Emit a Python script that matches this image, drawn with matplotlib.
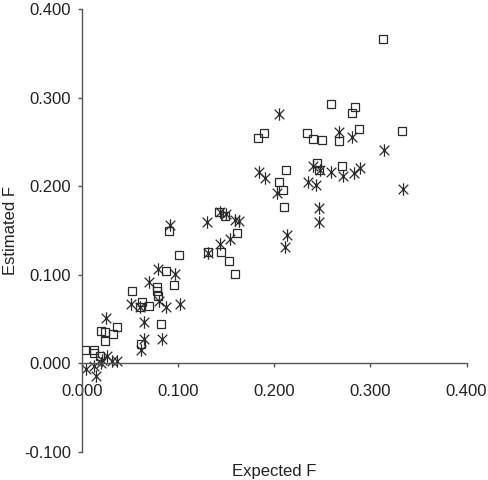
import matplotlib
matplotlib.use("Agg")
import matplotlib.pyplot as plt
from matplotlib.path import Path
from matplotlib.ticker import FuncFormatter

# Open squares series
sq_x = [0.313, 0.259, 0.284, 0.281, 0.189, 0.183, 0.234, 0.240, 0.250, 0.267,
        0.288, 0.333, 0.270, 0.244, 0.246, 0.212, 0.205, 0.209, 0.210, 0.142,
        0.149, 0.161, 0.144, 0.153, 0.159, 0.131, 0.090, 0.101, 0.087, 0.096,
        0.078, 0.078, 0.079, 0.052, 0.062, 0.060, 0.070, 0.082, 0.020, 0.024,
        0.036, 0.032, 0.024, 0.003, 0.012, 0.012, 0.019, 0.061]
sq_y = [0.366, 0.293, 0.289, 0.283, 0.260, 0.254, 0.260, 0.253, 0.252, 0.251,
        0.264, 0.262, 0.223, 0.226, 0.218, 0.218, 0.205, 0.196, 0.176, 0.171,
        0.166, 0.147, 0.126, 0.115, 0.101, 0.126, 0.149, 0.122, 0.104, 0.088,
        0.086, 0.081, 0.076, 0.082, 0.069, 0.064, 0.065, 0.044, 0.036, 0.035,
        0.041, 0.033, 0.025, 0.015, 0.015, 0.011, 0.008, 0.022]

# Asterisk series
st_x = [0.205, 0.267, 0.281, 0.314, 0.334, 0.184, 0.190, 0.235, 0.243, 0.240,
        0.248, 0.259, 0.271, 0.283, 0.289, 0.247, 0.246, 0.213, 0.211, 0.203,
        0.130, 0.143, 0.150, 0.159, 0.163, 0.154, 0.143, 0.131, 0.091, 0.097,
        0.102, 0.087, 0.079, 0.070, 0.080, 0.051, 0.060, 0.064, 0.064, 0.083,
        0.061, 0.025, 0.026, 0.021, 0.020, 0.031, 0.036, 0.004, 0.012, 0.014]
st_y = [0.282, 0.261, 0.256, 0.241, 0.197, 0.216, 0.209, 0.205, 0.201, 0.223,
        0.218, 0.216, 0.212, 0.215, 0.221, 0.175, 0.160, 0.145, 0.131, 0.192,
        0.159, 0.171, 0.169, 0.162, 0.161, 0.140, 0.135, 0.125, 0.156, 0.101,
        0.067, 0.063, 0.106, 0.092, 0.070, 0.067, 0.064, 0.047, 0.027, 0.027,
        0.015, 0.051, 0.008, 0.004, 0.000, 0.003, 0.003, -0.007, -0.003, -0.015]

x_ticks = [0.0, 0.1, 0.2, 0.3, 0.4]
y_ticks = [-0.1, 0.0, 0.1, 0.2, 0.3, 0.4]

plt.rcParams['font.family'] = ['Liberation Sans', 'DejaVu Sans']

fig = plt.figure(figsize=(4.89, 4.80), dpi=100)
ax = fig.add_axes([0.168, 0.059, 0.786, 0.922])

col = '#2a2a2a'
star = Path([(-1, -1), (1, 1), (-1, 1), (1, -1), (0, -1.3), (0, 1.3)],
            [Path.MOVETO, Path.LINETO, Path.MOVETO, Path.LINETO, Path.MOVETO, Path.LINETO])

ax.plot(sq_x, sq_y, linestyle='none', marker='s', markersize=6,
        markerfacecolor='none', markeredgecolor=col, markeredgewidth=0.9)
ax.plot(st_x, st_y, linestyle='none', marker=star, markersize=9,
        markerfacecolor='none', markeredgecolor=col, markeredgewidth=0.9)

ax.set_xlim(0, 0.4)
ax.set_ylim(-0.1, 0.4)
ax.spines['top'].set_visible(False)
ax.spines['right'].set_visible(False)
ax.spines['bottom'].set_position(('data', 0))
for s in ('left', 'bottom'):
    ax.spines[s].set_color('#555555')
    ax.spines[s].set_linewidth(1.0)

ax.set_xticks(x_ticks)
ax.set_yticks(y_ticks)
fmt = FuncFormatter(lambda v, p: f"{v:.3f}")
ax.xaxis.set_major_formatter(fmt)
ax.yaxis.set_major_formatter(fmt)
ax.tick_params(axis='both', direction='out', length=3, width=1.0, color='#555555',
               labelsize=12, labelcolor='#222222')
ax.tick_params(axis='x', pad=12)
ax.tick_params(axis='y', pad=5)

ax.set_xlabel('Expected F', fontsize=12, color='#222222')
ax.xaxis.set_label_coords(0.5, -0.028)
ax.set_ylabel('Estimated F', fontsize=12, color='#222222')
ax.yaxis.set_label_coords(-0.168, 0.5)

fig.savefig('out.png', dpi=100)
